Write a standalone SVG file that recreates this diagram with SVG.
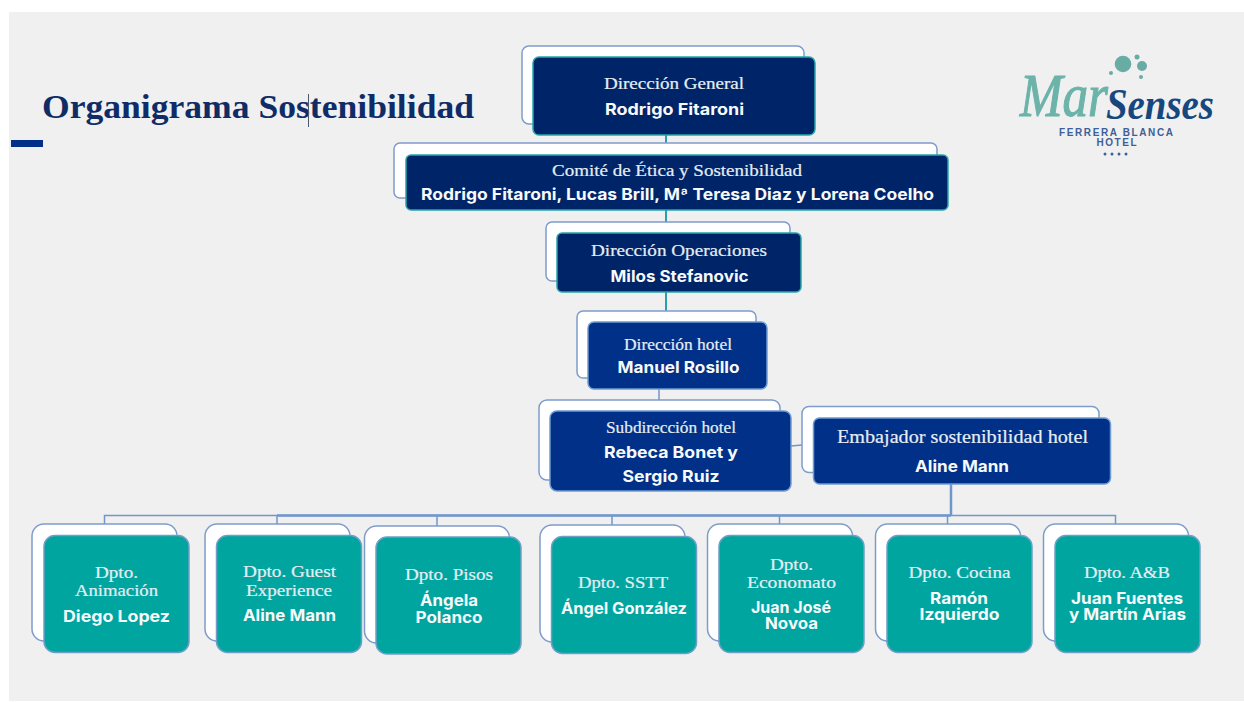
<svg xmlns="http://www.w3.org/2000/svg" width="1244" height="702" viewBox="0 0 1244 702">
<style>
.bk{fill:#fff;stroke:#7e9ccb;stroke-width:1.5}
.nv{fill:#002468;stroke:#27a5ab;stroke-width:1.5}
.bl{fill:#003087;stroke:#6e9bd2;stroke-width:1.5}
.tl{fill:#00a5a0;stroke:#6f9fc6;stroke-width:1.5}
.s{font-family:"Liberation Serif","Times New Roman",serif;font-size:16px;fill:#e6edf3;stroke:#e6edf3;stroke-width:.2;text-anchor:middle}
.b{font-family:Inter,"Liberation Sans",sans-serif;font-weight:700;font-size:16px;fill:#f7f9fb;text-anchor:middle}
.ct{fill:none;stroke:#2c9fae;stroke-width:2}
.cb{fill:none;stroke:#6f97cb;stroke-width:1.5}
.lg{font-family:"Liberation Sans",Arial,sans-serif;font-weight:700;font-size:10px;fill:#3f5f96;text-anchor:middle}
</style>
<rect width="1244" height="702" fill="#fff"/>
<rect x="9" y="12" width="1235" height="689" fill="#f0f0f0"/>
<g id="title">
<text x="42" y="118" font-family="'Liberation Serif','Times New Roman',serif" font-weight="700" font-size="34" fill="#0f2c66" textLength="432" lengthAdjust="spacingAndGlyphs">Organigrama Sostenibilidad</text>
<line x1="308.500" y1="94" x2="308.500" y2="127" stroke="#4a5a70" stroke-width="1"/>
<rect x="11" y="140" width="32" height="7" fill="#003087"/>
</g>
<g id="logo">
<circle cx="1123" cy="64" r="8.300" fill="#69aca6"/>
<circle cx="1142" cy="66" r="5" fill="#69aca6"/>
<circle cx="1137" cy="57" r="2.500" fill="#69aca6"/>
<circle cx="1111" cy="73" r="2" fill="#69aca6"/>
<circle cx="1141" cy="77" r="2" fill="#69aca6"/>
<text x="1020" y="116" font-family="'Liberation Serif',serif" font-style="italic" font-size="62" fill="#6cb3a9" stroke="#6cb3a9" stroke-width="1.200" textLength="88" lengthAdjust="spacingAndGlyphs">Mar</text>
<text x="1106" y="119" font-family="'Liberation Serif',serif" font-style="italic" font-weight="700" font-size="44" fill="#17477f" textLength="108" lengthAdjust="spacingAndGlyphs">Senses</text>
<text class="lg" x="1116" y="136" textLength="114" lengthAdjust="spacing">FERRERA BLANCA</text>
<text class="lg" x="1116.500" y="146" textLength="40" lengthAdjust="spacing">HOTEL</text>
<circle cx="1105" cy="154" r="1.500" fill="#3f5f96"/><circle cx="1112" cy="154" r="1.500" fill="#3f5f96"/><circle cx="1119" cy="154" r="1.500" fill="#3f5f96"/><circle cx="1126" cy="154" r="1.500" fill="#3f5f96"/>
</g>
<g id="connectors">
<path class="ct" d="M666 135V155M666 210V233M666 292V322"/>
<path class="cb" d="M659 389V400M791 446L813 444M104.500 524V515.500H1115.500V525M277 515.500V524M437 515.500V526M612 515.500V525M779.500 515.500V524M947.500 515.500V524"/>
<path class="cb" style="stroke-width:2.500" d="M277 515.500H951M951 484V516"/>
</g>
<g id="n-direccion-general">
<rect class="bk" x="522" y="46" width="282" height="78" rx="7"/>
<rect class="nv" x="533" y="57" width="282" height="78" rx="6"/>
<text class="s" x="674" y="88.500" textLength="140" lengthAdjust="spacingAndGlyphs">Dirección General</text>
<text class="b" x="674.500" y="115" textLength="139" lengthAdjust="spacingAndGlyphs">Rodrigo Fitaroni</text>
</g>
<g id="n-comite">
<rect class="bk" x="394" y="143" width="543" height="55" rx="6"/>
<rect class="nv" x="406" y="155" width="542" height="55" rx="5"/>
<text class="s" x="677" y="175.500" textLength="250" lengthAdjust="spacingAndGlyphs">Comité de Ética y Sostenibilidad</text>
<text class="b" x="677.500" y="200" textLength="513" lengthAdjust="spacingAndGlyphs">Rodrigo Fitaroni, Lucas Brill, Mª Teresa Diaz y Lorena Coelho</text>
</g>
<g id="n-operaciones">
<rect class="bk" x="546" y="222" width="244" height="59" rx="6"/>
<rect class="nv" x="557" y="233" width="244" height="59" rx="5"/>
<text class="s" x="679" y="255.500" textLength="176" lengthAdjust="spacingAndGlyphs">Dirección Operaciones</text>
<text class="b" x="679.500" y="281.500" textLength="138" lengthAdjust="spacingAndGlyphs">Milos Stefanovic</text>
</g>
<g id="n-hotel">
<rect class="bk" x="577" y="311" width="179" height="67" rx="6"/>
<rect class="bl" x="588" y="322" width="179" height="67" rx="6"/>
<text class="s" x="678" y="349.500" textLength="108" lengthAdjust="spacingAndGlyphs">Dirección hotel</text>
<text class="b" x="678.500" y="373" textLength="122" lengthAdjust="spacingAndGlyphs">Manuel Rosillo</text>
</g>
<g id="n-subdireccion">
<rect class="bk" x="539" y="400" width="241" height="80" rx="8"/>
<rect class="bl" x="550" y="411" width="241" height="80" rx="7"/>
<text class="s" x="671" y="432.500" textLength="130" lengthAdjust="spacingAndGlyphs">Subdirección hotel</text>
<text class="b" x="671" y="458" textLength="134" lengthAdjust="spacingAndGlyphs">Rebeca Bonet y</text>
<text class="b" x="671" y="481.500" textLength="97" lengthAdjust="spacingAndGlyphs">Sergio Ruiz</text>
</g>
<g id="n-embajador">
<rect class="bk" x="802" y="406.500" width="297" height="66" rx="7"/>
<rect class="bl" x="813.500" y="418" width="297" height="66" rx="6"/>
<text class="s" x="962.500" y="443" style="font-size:18px" textLength="251" lengthAdjust="spacingAndGlyphs">Embajador sostenibilidad hotel</text>
<text class="b" x="962" y="472" textLength="94" lengthAdjust="spacingAndGlyphs">Aline Mann</text>
</g>
<g id="d-animacion">
<rect class="bk" x="32" y="524" width="145" height="117" rx="12"/>
<rect class="tl" x="44" y="535.500" width="145" height="117" rx="11"/>
<text class="s" x="116.500" y="578" textLength="43" lengthAdjust="spacingAndGlyphs">Dpto.</text>
<text class="s" x="116.500" y="596" textLength="83" lengthAdjust="spacingAndGlyphs">Animación</text>
<text class="b" x="116.500" y="621.500" textLength="107" lengthAdjust="spacingAndGlyphs">Diego Lopez</text>
</g>
<g id="d-guest">
<rect class="bk" x="205" y="524" width="145" height="117" rx="12"/>
<rect class="tl" x="216.500" y="535.500" width="145" height="117" rx="11"/>
<text class="s" x="289.500" y="577" textLength="93" lengthAdjust="spacingAndGlyphs">Dpto. Guest</text>
<text class="s" x="289" y="596" textLength="86" lengthAdjust="spacingAndGlyphs">Experience</text>
<text class="b" x="289.500" y="621" textLength="93" lengthAdjust="spacingAndGlyphs">Aline Mann</text>
</g>
<g id="d-pisos">
<rect class="bk" x="364.500" y="526" width="145" height="117" rx="12"/>
<rect class="tl" x="376" y="537" width="145" height="117" rx="11"/>
<text class="s" x="449" y="580" textLength="88" lengthAdjust="spacingAndGlyphs">Dpto. Pisos</text>
<text class="b" x="449" y="606" textLength="58" lengthAdjust="spacingAndGlyphs">Ángela</text>
<text class="b" x="449" y="622.500" textLength="67" lengthAdjust="spacingAndGlyphs">Polanco</text>
</g>
<g id="d-sstt">
<rect class="bk" x="540" y="525" width="145" height="117" rx="12"/>
<rect class="tl" x="551.500" y="536.500" width="145" height="117" rx="11"/>
<text class="s" x="623" y="588" textLength="90" lengthAdjust="spacingAndGlyphs">Dpto. SSTT</text>
<text class="b" x="624" y="613.500" textLength="126" lengthAdjust="spacingAndGlyphs">Ángel González</text>
</g>
<g id="d-economato">
<rect class="bk" x="707.500" y="524" width="145" height="117" rx="12"/>
<rect class="tl" x="719" y="535.500" width="145" height="117" rx="11"/>
<text class="s" x="791.500" y="570" textLength="43" lengthAdjust="spacingAndGlyphs">Dpto.</text>
<text class="s" x="791.500" y="588" textLength="89" lengthAdjust="spacingAndGlyphs">Economato</text>
<text class="b" x="791" y="613" textLength="80" lengthAdjust="spacingAndGlyphs">Juan José</text>
<text class="b" x="791.500" y="629" textLength="53" lengthAdjust="spacingAndGlyphs">Novoa</text>
</g>
<g id="d-cocina">
<rect class="bk" x="875.500" y="524" width="145" height="117" rx="12"/>
<rect class="tl" x="887" y="535.500" width="145" height="117" rx="11"/>
<text class="s" x="959.500" y="577.500" textLength="102" lengthAdjust="spacingAndGlyphs">Dpto. Cocina</text>
<text class="b" x="959" y="604" textLength="58" lengthAdjust="spacingAndGlyphs">Ramón</text>
<text class="b" x="959.500" y="620" textLength="80" lengthAdjust="spacingAndGlyphs">Izquierdo</text>
</g>
<g id="d-ab">
<rect class="bk" x="1043.500" y="524" width="145" height="117" rx="12"/>
<rect class="tl" x="1055" y="535.500" width="145" height="117" rx="11"/>
<text class="s" x="1127" y="577.500" textLength="86" lengthAdjust="spacingAndGlyphs">Dpto. A&amp;B</text>
<text class="b" x="1127" y="604" textLength="112" lengthAdjust="spacingAndGlyphs">Juan Fuentes</text>
<text class="b" x="1127.500" y="620" textLength="117" lengthAdjust="spacingAndGlyphs">y Martín Arias</text>
</g>
</svg>
